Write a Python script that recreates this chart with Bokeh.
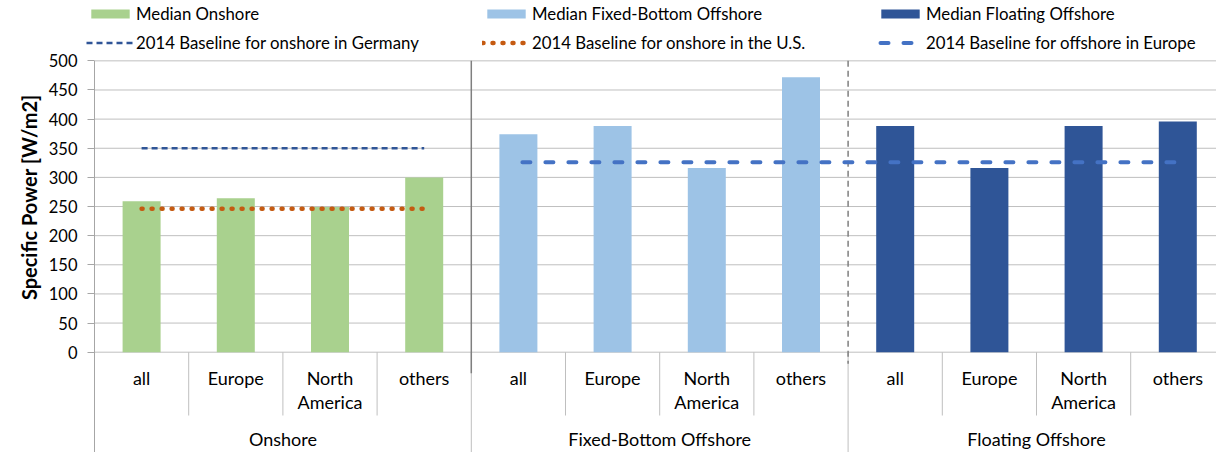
from math import pi
from bokeh.plotting import figure
from bokeh.models import Range1d, FixedTicker, Legend, LegendItem, Label
from bokeh.core.properties import value
from bokeh.embed import file_html
from bokeh.resources import INLINE

# ---------------- data ----------------
groups = ["Onshore", "Fixed-Bottom Offshore", "Floating Offshore"]
regions = ["all", "Europe", "North\nAmerica", "others"]
median_onshore = [259, 264, 249, 300]
median_fixed_bottom = [374, 388, 316, 472]
median_floating = [388, 316, 388, 396]
baseline_onshore_germany = [350, 350, 350, 350]          # over the onshore categories
baseline_onshore_us = [246, 246, 246, 246]               # over the onshore categories
baseline_offshore_europe = [326, 326, 326, 326, 326, 326, 326, 326]  # fixed + floating categories
y_ticks = [0, 50, 100, 150, 200, 250, 300, 350, 400, 450, 500]

# ---------------- style ----------------
FONT = "Lato"
GREEN = "#a9d18e"
LIGHT_BLUE = "#9dc3e6"
DARK_BLUE = "#2f5597"
ORANGE = "#c55a11"
MID_BLUE = "#4472c4"
GRID = "#bfbfbf"
AXIS = "#a6a6a6"
SEP = "#7f7f7f"

n_sub = len(regions)
n_cat = n_sub * len(groups)
px_per_cat = 94.2
px_per_unit = 0.5827
W, H = 1216, 452
axis_px = 94.0           # x of the value axis inside the figure
zero_px = 351.7          # y of value 0 inside the figure
x_start = -axis_px / px_per_cat
x_end = x_start + W / px_per_cat
y_end = zero_px / px_per_unit
y_start = -(H - zero_px) / px_per_unit
sep_bottom = -(415.0 - zero_px) / px_per_unit

p = figure(width=W, height=H, x_range=Range1d(x_start, x_end), y_range=Range1d(y_start, y_end),
           output_backend="svg", toolbar_location=None, x_axis_location=None,
           min_border_left=0, min_border_right=0, min_border_top=0, min_border_bottom=0,
           outline_line_color=None, background_fill_color="white")

p.xgrid.visible = False
p.ygrid.visible = False

ax = p.yaxis[0]
ax.fixed_location = 0
ax.ticker = FixedTicker(ticks=y_ticks)
ax.axis_line_color = None
ax.major_tick_out = 7
ax.major_tick_in = 0
ax.major_tick_line_color = AXIS
ax.minor_tick_line_color = None
ax.major_label_standoff = 10
ax.major_label_text_font = FONT
ax.major_label_text_font_size = "16.5px"
ax.major_label_text_color = "#000000"

# category positions (index based)
def xs(offset, n):
    return [offset + i + 0.5 for i in range(n)]

x_on = xs(0, n_sub)
x_fb = xs(n_sub, n_sub)
x_fl = xs(2 * n_sub, n_sub)

# horizontal grid lines (start at the value axis)
p.segment(x0=[0] * len(y_ticks), y0=y_ticks, x1=[x_end] * len(y_ticks), y1=y_ticks,
          line_color=GRID, line_width=1)

# axis / separator lines
p.segment(x0=[0], y0=[y_ticks[-1]], x1=[0], y1=[y_start], line_color=AXIS, line_width=1)
inner = [g * n_sub + k for g in range(len(groups)) for k in range(1, n_sub)]
p.segment(x0=inner, y0=[0] * len(inner), x1=inner, y1=[sep_bottom] * len(inner), line_color=GRID, line_width=1)
outer = [g * n_sub for g in range(1, len(groups))]
p.segment(x0=outer, y0=[0] * len(outer), x1=outer, y1=[y_start] * len(outer), line_color=GRID, line_width=1)
p.segment(x0=[outer[0]], y0=[y_ticks[-1]], x1=[outer[0]], y1=[-36], line_color=SEP, line_width=1.5)
p.segment(x0=[outer[1]], y0=[y_ticks[-1]], x1=[outer[1]], y1=[-20], line_color=SEP, line_width=1.5,
          line_dash="6 4")

bw = 38 / px_per_cat
r_on = p.vbar(x=x_on, top=median_onshore, width=bw, fill_color=GREEN, line_color=None)
r_fb = p.vbar(x=x_fb, top=median_fixed_bottom, width=bw, fill_color=LIGHT_BLUE, line_color=None)
r_fl = p.vbar(x=x_fl, top=median_floating, width=bw, fill_color=DARK_BLUE, line_color=None)

r_de = p.line(x=x_on, y=baseline_onshore_germany, line_color=DARK_BLUE, line_width=2.5, line_dash="6 4")
r_us = p.line(x=x_on, y=baseline_onshore_us, line_color=ORANGE, line_width=4.5, line_dash="1 9",
              line_cap="round")
r_eu = p.line(x=x_fb + x_fl, y=baseline_offshore_europe, line_color=MID_BLUE, line_width=4,
              line_dash="8 15", line_dash_offset=19, line_cap="round")

# category labels
all_x = x_on + x_fb + x_fl
p.text(x=all_x, y=[0] * n_cat, text=regions * len(groups), y_offset=15,
       text_align="center", text_baseline="top", text_font=value(FONT), text_font_size="18px",
       text_line_height=1.1, text_color="#000000")
gx = [g * n_sub + n_sub / 2 for g in range(len(groups))]
p.text(x=gx, y=[0] * len(groups), text=groups, y_offset=87,
       text_align="center", text_baseline="middle", text_font=value(FONT), text_font_size="18px",
       text_color="#000000")

# value-axis title
p.add_layout(Label(x=-66 / px_per_cat, y=266, text="Specific Power [W/m2]", angle=pi / 2,
                   text_align="center", text_baseline="middle", text_font=FONT,
                   text_font_size="20px", text_font_style="bold", text_color="#000000"))

def make_legend(items, loc):
    lg = Legend(items=items, location=loc, orientation="vertical",
                padding=0, margin=0, spacing=8, label_height=20,
                glyph_height=11, glyph_width=48, label_standoff=2,
                background_fill_alpha=0, border_line_alpha=0,
                label_text_font=FONT, label_text_font_size="16.8px", label_text_color="#000000")
    return lg

legend_bottom = 399
p.add_layout(make_legend([LegendItem(label="Median Onshore", renderers=[r_on]),
                          LegendItem(label="2014 Baseline for onshore in Germany", renderers=[r_de])],
                         (86, legend_bottom)))
p.add_layout(make_legend([LegendItem(label="Median Fixed-Bottom Offshore", renderers=[r_fb]),
                          LegendItem(label="2014 Baseline for onshore in the U.S.", renderers=[r_us])],
                         (482, legend_bottom)))
p.add_layout(make_legend([LegendItem(label="Median Floating Offshore", renderers=[r_fl]),
                          LegendItem(label="2014 Baseline for offshore in Europe", renderers=[r_eu])],
                         (876, legend_bottom)))

open("out.html", "w").write(file_html(p, INLINE))
